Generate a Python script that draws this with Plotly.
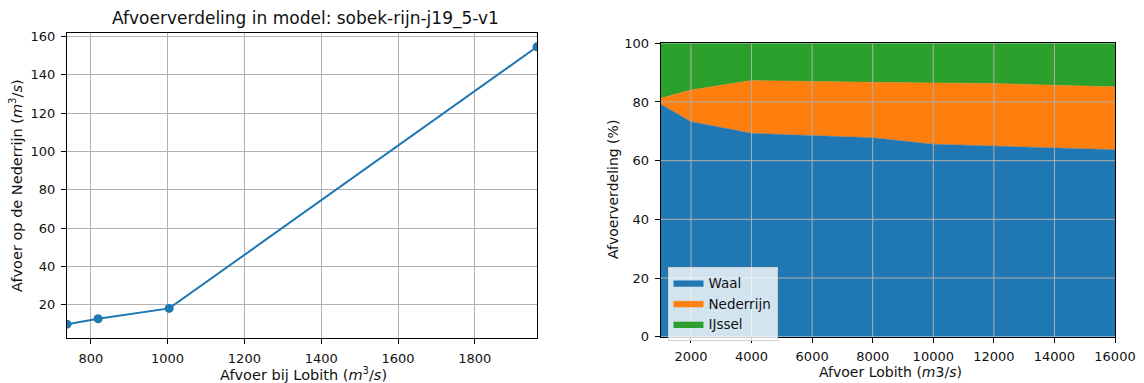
import plotly.graph_objects as go

# ---- Left chart data: discharge on the Nederrijn vs discharge at Lobith ----
lobith_q = [738, 819, 1004, 1962]
nederrijn_q = [9.9, 12.7, 18.1, 154.6]
left_xticks = [800, 1000, 1200, 1400, 1600, 1800]
left_yticks = [20, 40, 60, 80, 100, 120, 140, 160]

# ---- Right chart data: percentage distribution ----
lobith_pct_x = [1000, 2000, 4000, 6000, 8000, 10000, 12000, 14000, 16000]
waal_pct = [79.2, 73.3, 69.3, 68.5, 67.8, 65.6, 64.9, 64.3, 63.7]
nederrijn_pct = [2.1, 10.8, 18.0, 18.4, 18.9, 20.9, 21.4, 21.4, 21.5]
ijssel_pct = [18.7, 15.9, 12.7, 13.1, 13.3, 13.5, 13.7, 14.3, 14.8]
right_xticks = [2000, 4000, 6000, 8000, 10000, 12000, 14000, 16000]
right_yticks = [0, 20, 40, 60, 80, 100]

BLUE, ORANGE, GREEN = "#1f77b4", "#ff7f0e", "#2ca02c"
GRID = "#b0b0b0"
FONT = "DejaVu Sans"
W, H = 1144, 383

def px_x(p):
    return p / W

def px_y(p):
    return 1 - p / H

fig = go.Figure()

fig.add_trace(go.Scatter(
    x=lobith_q, y=nederrijn_q, mode="lines+markers",
    line=dict(color=BLUE, width=2), marker=dict(color=BLUE, size=9),
    showlegend=False, xaxis="x", yaxis="y"))

for name, vals, col in [("Waal", waal_pct, BLUE),
                        ("Nederrijn", nederrijn_pct, ORANGE),
                        ("IJssel", ijssel_pct, GREEN)]:
    fig.add_trace(go.Scatter(
        x=lobith_pct_x, y=vals, name=name, mode="lines",
        stackgroup="one", line=dict(color=col, width=0.5),
        fillcolor=col, xaxis="x2", yaxis="y2"))

# left y range with 5% data margin like matplotlib
ymin, ymax = min(nederrijn_q), max(nederrijn_q)
pad = 0.05 * (ymax - ymin)

axis_common = dict(
    showline=True, linecolor="black", linewidth=1, mirror=True,
    ticks="outside", ticklen=5, tickwidth=1, tickcolor="black",
    ticklabelstandoff=3, automargin=False,
    tickfont=dict(family=FONT, size=13, color="#111"),
    zeroline=False,
)

fig.update_layout(
    width=W, height=H, autosize=False,
    margin=dict(l=0, r=0, t=0, b=0, pad=0),
    paper_bgcolor="white", plot_bgcolor="white",
    font=dict(family=FONT, color="#111"),
    xaxis=dict(domain=[px_x(67), px_x(537)], anchor="y",
               range=[min(lobith_q), max(lobith_q)],
               tickvals=left_xticks, ticktext=[str(v) for v in left_xticks],
               showgrid=True, gridcolor=GRID, gridwidth=1, **axis_common),
    yaxis=dict(domain=[px_y(338), px_y(33)], anchor="x",
               range=[ymin - pad, ymax + pad],
               tickvals=left_yticks, ticktext=[str(v) for v in left_yticks],
               showgrid=True, gridcolor=GRID, gridwidth=1, **axis_common),
    xaxis2=dict(domain=[px_x(660.7), px_x(1115)], anchor="y2",
                range=[min(lobith_pct_x), max(lobith_pct_x)],
                tickvals=right_xticks, ticktext=[str(v) for v in right_xticks],
                showgrid=False, layer="above traces", **axis_common),
    yaxis2=dict(domain=[px_y(336.7), px_y(43.3)], anchor="x2",
                range=[0, 100], tickvals=right_yticks,
                ticktext=[str(v) for v in right_yticks], showgrid=False,
                layer="above traces", **axis_common),
    legend=dict(x=px_x(667.5), y=px_y(266.5), xanchor="left", yanchor="top",
                bgcolor="rgba(255,255,255,0.8)", bordercolor="#d0d0d0",
                borderwidth=1, font=dict(family=FONT, size=13.5, color="#111"),
                tracegroupgap=0, itemwidth=30, traceorder="normal"),
)

# gridlines above the filled areas on the right chart (matplotlib style)
shapes = []
for xv in right_xticks[:-1]:
    shapes.append(dict(type="line", xref="x2", yref="y2 domain", x0=xv, x1=xv,
                       y0=0, y1=1, line=dict(color=GRID, width=1), layer="above"))
for yv in right_yticks[1:-1]:
    shapes.append(dict(type="line", xref="x2 domain", yref="y2", x0=0, x1=1,
                       y0=yv, y1=yv, line=dict(color=GRID, width=1), layer="above"))
fig.update_layout(shapes=shapes)

ann = [
    dict(text="Afvoerverdeling in model: sobek-rijn-j19_5-v1",
         x=px_x(305), y=px_y(18), font=dict(size=17)),
    dict(text="Afvoer bij Lobith (<i>m</i><sup>3</sup>/<i>s</i>)",
         x=px_x(303), y=px_y(374), font=dict(size=14.5)),
    dict(text="Afvoer op de Nederrijn (<i>m</i><sup>3</sup>/<i>s</i>)",
         x=px_x(16), y=px_y(186), font=dict(size=14.5), textangle=-90),
    dict(text="Afvoer Lobith (<i>m</i>3/<i>s</i>)",
         x=px_x(890), y=px_y(372), font=dict(size=14)),
    dict(text="Afvoerverdeling (%)",
         x=px_x(613), y=px_y(190), font=dict(size=14), textangle=-90),
]
for a in ann:
    a.update(xref="paper", yref="paper", showarrow=False,
             xanchor="center", yanchor="middle")
    a["font"].update(family=FONT, color="#111")
fig.update_layout(annotations=ann)

fig.write_html("out.html")
